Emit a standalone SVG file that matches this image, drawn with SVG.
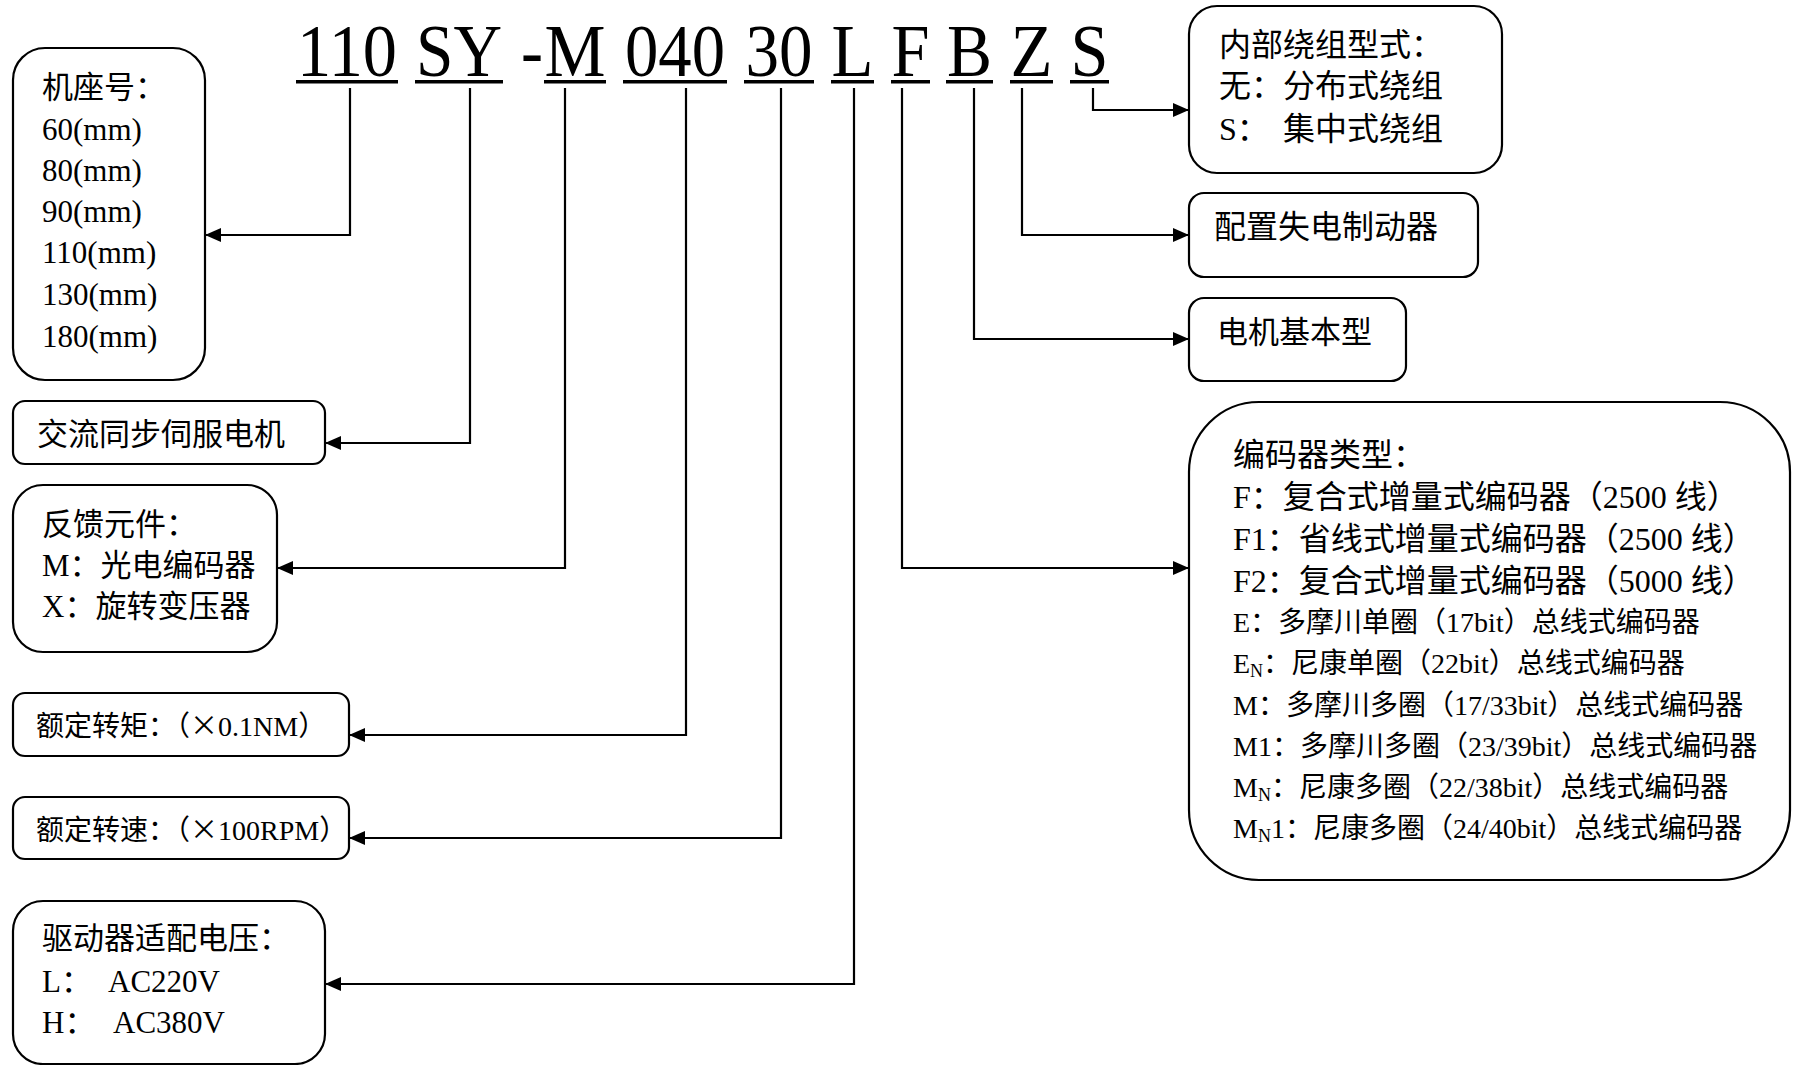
<svg xmlns="http://www.w3.org/2000/svg" width="1802" height="1065" viewBox="0 0 1802 1065">
<defs>
<style>
.box{fill:#fff;stroke:#000;stroke-width:2.2}
.t{font-family:'Liberation Serif','Noto Sans CJK SC',serif;fill:#000}
.f31{font-size:31px}
.f32{font-size:32px}
.f28{font-size:28px}
.x{font-family:'Noto Sans CJK SC',sans-serif;font-feature-settings:"fwid"}
.title{font-family:'Liberation Serif',serif;font-size:73px;fill:#000;text-anchor:middle}
.ul{fill:#000}
.conn{fill:none;stroke:#000;stroke-width:2.2;marker-end:url(#arr)}
</style>
<marker id="arr" markerUnits="userSpaceOnUse" markerWidth="16" markerHeight="14" refX="16" refY="7" orient="auto">
<path d="M0,0 L16,7 L0,14 z" fill="#000"/>
</marker>
</defs>
<rect width="1802" height="1065" fill="#fff"/>

<g id="title">
<text class="title" x="347" y="76" textLength="100" lengthAdjust="spacingAndGlyphs">110</text>
<text class="title" x="459" y="76" textLength="86" lengthAdjust="spacingAndGlyphs">SY</text>
<text class="title" x="532" y="76" textLength="22" lengthAdjust="spacingAndGlyphs">-</text>
<text class="title" x="575" y="76" textLength="61" lengthAdjust="spacingAndGlyphs">M</text>
<text class="title" x="675" y="76" textLength="100" lengthAdjust="spacingAndGlyphs">040</text>
<text class="title" x="779" y="76" textLength="67" lengthAdjust="spacingAndGlyphs">30</text>
<text class="title" x="852.5" y="76" textLength="42" lengthAdjust="spacingAndGlyphs">L</text>
<text class="title" x="910.5" y="76" textLength="38" lengthAdjust="spacingAndGlyphs">F</text>
<text class="title" x="969.5" y="76" textLength="45" lengthAdjust="spacingAndGlyphs">B</text>
<text class="title" x="1031.5" y="76" textLength="42" lengthAdjust="spacingAndGlyphs">Z</text>
<text class="title" x="1089.5" y="76" textLength="38" lengthAdjust="spacingAndGlyphs">S</text>
<rect class="ul" x="296" y="80" width="102" height="3.5"/>
<rect class="ul" x="415" y="80" width="88" height="3.5"/>
<rect class="ul" x="544" y="80" width="62" height="3.5"/>
<rect class="ul" x="623" y="80" width="104" height="3.5"/>
<rect class="ul" x="744" y="80" width="70" height="3.5"/>
<rect class="ul" x="831" y="80" width="43" height="3.5"/>
<rect class="ul" x="891" y="80" width="39" height="3.5"/>
<rect class="ul" x="946" y="80" width="47" height="3.5"/>
<rect class="ul" x="1010" y="80" width="43" height="3.5"/>
<rect class="ul" x="1070" y="80" width="39" height="3.5"/>
</g>

<g id="connectors">
<path class="conn" d="M350,88 V235 H205"/>
<path class="conn" d="M470,88 V443 H325"/>
<path class="conn" d="M565,88 V568 H277"/>
<path class="conn" d="M686,88 V735 H349"/>
<path class="conn" d="M781,88 V838 H349"/>
<path class="conn" d="M854,88 V984 H325"/>
<path class="conn" d="M902,88 V568 H1189"/>
<path class="conn" d="M974,88 V339 H1189"/>
<path class="conn" d="M1022,88 V235 H1189"/>
<path class="conn" d="M1093,88 V110 H1189"/>
</g>

<g id="frame-size">
<rect class="box" x="13" y="48" width="192" height="332" rx="32"/>
<text class="t f31" x="42" y="98">机座号：</text>
<text class="t f31" x="42" y="140">60(mm)</text>
<text class="t f31" x="42" y="181">80(mm)</text>
<text class="t f31" x="42" y="222">90(mm)</text>
<text class="t f31" x="42" y="263">110(mm)</text>
<text class="t f31" x="42" y="305">130(mm)</text>
<text class="t f31" x="42" y="347">180(mm)</text>
</g>

<g id="motor-type">
<rect class="box" x="13" y="401" width="312" height="63" rx="12"/>
<text class="t f31" x="37" y="445">交流同步伺服电机</text>
</g>

<g id="feedback">
<rect class="box" x="13" y="485" width="264" height="167" rx="30"/>
<text class="t f31" x="42" y="535">反馈元件：</text>
<text class="t f31" x="42" y="576">M：光电编码器</text>
<text class="t f31" x="42" y="617">X：旋转变压器</text>
</g>

<g id="torque">
<rect class="box" x="13" y="693" width="336" height="63" rx="12"/>
<text class="t f28" x="36" y="736">额定转矩：（<tspan class="x">×</tspan>0.1NM）</text>
</g>

<g id="speed">
<rect class="box" x="13" y="797" width="336" height="62" rx="12"/>
<text class="t f28" x="36" y="840">额定转速：（<tspan class="x">×</tspan>100RPM）</text>
</g>

<g id="voltage">
<rect class="box" x="13" y="901" width="312" height="163" rx="30"/>
<text class="t f31" x="42" y="949">驱动器适配电压：</text>
<text class="t f31" x="42" y="992">L：</text>
<text class="t f31" x="108" y="992">AC220V</text>
<text class="t f31" x="42" y="1033">H：</text>
<text class="t f31" x="113" y="1033">AC380V</text>
</g>

<g id="winding">
<rect class="box" x="1189" y="6" width="313" height="167" rx="28"/>
<text class="t f32" x="1219" y="56">内部绕组型式：</text>
<text class="t f32" x="1219" y="97">无：</text>
<text class="t f32" x="1283" y="97">分布式绕组</text>
<text class="t f32" x="1219" y="140">S：</text>
<text class="t f32" x="1283" y="140">集中式绕组</text>
</g>

<g id="brake">
<rect class="box" x="1189" y="193" width="289" height="84" rx="15"/>
<text class="t f32" x="1214" y="238">配置失电制动器</text>
</g>

<g id="basic">
<rect class="box" x="1189" y="298" width="217" height="83" rx="15"/>
<text class="t f31" x="1217" y="343">电机基本型</text>
</g>

<g id="encoder">
<rect class="box" x="1189" y="402" width="601" height="478" rx="70"/>
<text class="t f32" x="1233" y="466">编码器类型：</text>
<text class="t f32" x="1233" y="508">F：复合式增量式编码器（2500 线）</text>
<text class="t f32" x="1233" y="550">F1：省线式增量式编码器（2500 线）</text>
<text class="t f32" x="1233" y="592">F2：复合式增量式编码器（5000 线）</text>
<text class="t f28" x="1233" y="632">E：多摩川单圈（17bit）总线式编码器</text>
<text class="t f28" x="1233" y="673">E<tspan font-size="18" dy="4">N</tspan><tspan dy="-4">：尼康单圈（22bit）总线式编码器</tspan></text>
<text class="t f28" x="1233" y="715">M：多摩川多圈（17/33bit）总线式编码器</text>
<text class="t f28" x="1233" y="756">M1：多摩川多圈（23/39bit）总线式编码器</text>
<text class="t f28" x="1233" y="797">M<tspan font-size="18" dy="4">N</tspan><tspan dy="-4">：尼康多圈（22/38bit）总线式编码器</tspan></text>
<text class="t f28" x="1233" y="838">M<tspan font-size="18" dy="4">N</tspan><tspan dy="-4">1：尼康多圈（24/40bit）总线式编码器</tspan></text>
</g>
</svg>
